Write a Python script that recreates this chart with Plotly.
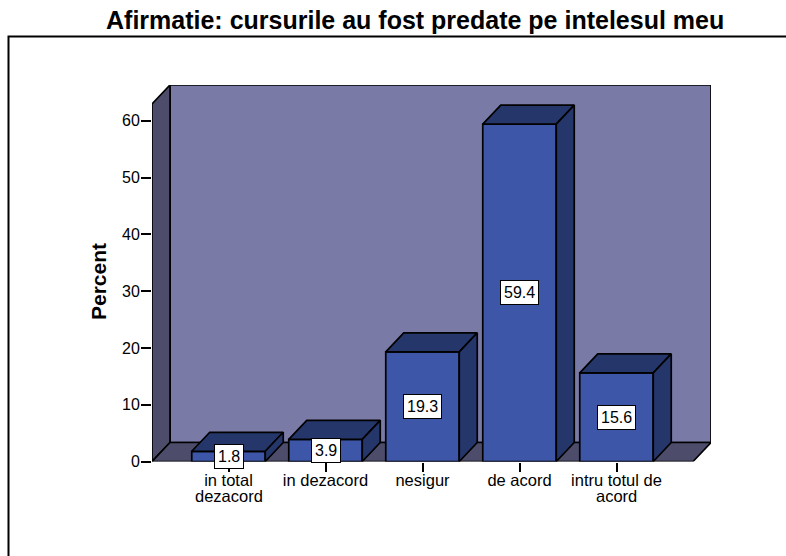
import plotly.graph_objects as go

# ---- data ----
label_line1 = ["in total", "in dezacord", "nesigur", "de acord", "intru totul de"]
label_line2 = ["dezacord", "", "", "", "acord"]
percent = [1.8, 3.9, 19.3, 59.4, 15.6]
y_ticks = [0, 10, 20, 30, 40, 50, 60]
title_text = "Afirmatie: cursurile au fost predate pe intelesul meu"
y_title = "Percent"

# ---- style ----
W, H = 786, 556
FONT = "Liberation Sans"
WALL_BACK = "#7a7aa6"
WALL_SIDE = "#4d4d6b"
BAR_FRONT = "#3d56a8"
BAR_DARK = "#25366b"
LW = 1.7

# pixel layout of the plotting window
PX_L, PX_R, PX_T, PX_B = 152, 711, 85, 461.5
X_UNIT = 97.0        # px per category
Y_UNIT = 5.68        # px per percent
X0_PX = 228.5        # px of the first category

x_min = (PX_L - X0_PX) / X_UNIT
x_max = (PX_R - X0_PX) / X_UNIT
y_max = (PX_B - PX_T) / Y_UNIT

bar_w = 73.5 / X_UNIT
dx = 18 / X_UNIT     # depth offset of the 3-D look
dy = 19 / Y_UNIT
floor_right = x_max - dx
xs = list(range(len(percent)))

fig = go.Figure()

# front faces
fig.add_trace(go.Bar(x=xs, y=percent, width=bar_w,
                     marker=dict(color=BAR_FRONT, line=dict(color="black", width=LW)),
                     showlegend=False, hoverinfo="skip"))

# top and side faces derived from the values
for x, v in zip(xs, percent):
    l, r = x - bar_w / 2, x + bar_w / 2
    fig.add_trace(go.Scatter(x=[l, l + dx, r + dx, r, l], y=[v, v + dy, v + dy, v, v],
                             mode="lines", fill="toself", fillcolor=BAR_DARK,
                             line=dict(color="black", width=LW),
                             showlegend=False, hoverinfo="skip"))
    fig.add_trace(go.Scatter(x=[r, r + dx, r + dx, r, r], y=[0, dy, v + dy, v, 0],
                             mode="lines", fill="toself", fillcolor=BAR_DARK,
                             line=dict(color="black", width=LW),
                             showlegend=False, hoverinfo="skip"))


def poly(xv, yv, fill):
    path = "M " + " L ".join(f"{a},{b}" for a, b in zip(xv, yv)) + " Z"
    return dict(type="path", path=path, xref="x", yref="y", layer="below",
                fillcolor=fill, line=dict(color="black", width=LW))


shapes = [
    poly([x_min + dx, x_max, x_max, x_min + dx], [dy, dy, y_max, y_max], WALL_BACK),
    poly([x_min, x_min + dx, x_min + dx, x_min], [0, dy, y_max, y_max - dy], WALL_SIDE),
    poly([x_min, floor_right, x_max, x_min + dx], [0, 0, dy, dy], WALL_SIDE),
    # outer frame of the chart: top and left edges
    dict(type="path", path=f"M {8.5/W},0 L {8.5/W},{1-36.5/H} L 1,{1-36.5/H}",
         xref="paper", yref="paper", layer="below", line=dict(color="black", width=2)),
]

annotations = []
# value boxes
for x, v in zip(xs, percent):
    annotations.append(dict(x=x, y=v / 2, xref="x", yref="y", text=f"{v:.1f}", showarrow=False,
                            bgcolor="white", bordercolor="black", borderwidth=1, borderpad=3,
                            font=dict(family=FONT, size=16, color="black")))
# second line of the category labels (tighter leading than <br> allows)
for x, t in zip(xs, label_line2):
    if t:
        annotations.append(dict(x=x, y=0, xref="x", yref="y", text=t, showarrow=False,
                                yanchor="middle", yshift=-34,
                                font=dict(family=FONT, size=16.5, color="black")))
# titles
annotations.append(dict(x=98.5 / W, y=1 - 281.5 / H, xref="paper", yref="paper", text=f"<b>{y_title}</b>",
                        xanchor="center", yanchor="middle",
                        showarrow=False, textangle=-90, font=dict(family=FONT, size=21, color="black")))
annotations.append(dict(x=415 / W, y=1 - 20 / H, xref="paper", yref="paper", text=f"<b>{title_text}</b>",
                        xanchor="center", yanchor="middle",
                        showarrow=False, font=dict(family=FONT, size=25, color="black")))

fig.update_layout(
    width=W, height=H, autosize=False,
    margin=dict(l=0, r=0, t=0, b=0),
    paper_bgcolor="white", plot_bgcolor="rgba(0,0,0,0)",
    showlegend=False, shapes=shapes, annotations=annotations,
    xaxis=dict(domain=[PX_L / W, PX_R / W], range=[x_min, x_max], automargin=False,
               tickmode="array", tickvals=xs, ticktext=label_line1,
               ticks="outside", ticklen=9, tickwidth=1.5, tickcolor="black", ticklabelstandoff=-5,
               tickfont=dict(family=FONT, size=16.5, color="black"), tickangle=0,
               showgrid=False, zeroline=False, showline=False),
    yaxis=dict(domain=[1 - PX_B / H, 1 - PX_T / H], range=[0, y_max], automargin=False,
               tickmode="array", tickvals=y_ticks,
               ticks="outside", ticklen=10, tickwidth=1.5, tickcolor="black", ticklabelstandoff=-2,
               tickfont=dict(family=FONT, size=16, color="black"),
               showgrid=False, zeroline=False, showline=False),
)

fig.write_html("out.html", config={"displayModeBar": False},
               post_script="document.body.style.margin='0';document.documentElement.style.overflow='hidden';")
